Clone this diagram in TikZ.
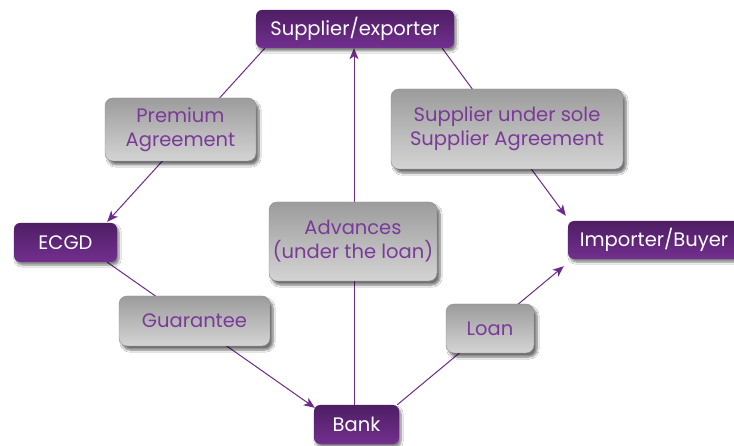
\documentclass[tikz,border=0pt]{standalone}
\usepackage{fontspec}
\setmainfont{Poppins}
\usetikzlibrary{shadows.blur,arrows.meta,calc,backgrounds}
\definecolor{pdark}{HTML}{4E1E63}
\definecolor{plight}{HTML}{722F8F}
\definecolor{gtop}{HTML}{9C9C9C}
\definecolor{gbot}{HTML}{D4D4D4}
\definecolor{ptext}{HTML}{7A3A98}
\definecolor{pline}{HTML}{6B2B8B}
\begin{document}
\begin{tikzpicture}[x=1pt,y=-1pt,
  pbox/.style={rounded corners=6pt, top color=pdark, bottom color=plight, text=white,
    font=\fontsize{19.5}{22}\selectfont, inner sep=0pt,
    blur shadow={shadow xshift=2pt, shadow yshift=-3pt, shadow blur steps=6, shadow opacity=50}},
  gbox/.style={rounded corners=8pt, top color=gtop, bottom color=gbot, text=ptext,
    draw=gtop!80!ptext, line width=0.4pt, align=center,
    font=\fontsize{19.5}{24}\selectfont, inner sep=0pt,
    blur shadow={shadow xshift=3pt, shadow yshift=-4pt, shadow blur steps=8, shadow opacity=55}},
  conn/.style={draw=pline, line width=1pt},
  arr/.style={conn, -{Stealth[length=11pt,width=9pt,inset=3pt]}}
]
\useasboundingbox (0,0) rectangle (734,446);

\node[pbox, minimum width=198pt, minimum height=38pt] (sup) at (355,29) {Supplier/exporter};
\node[pbox, minimum width=103pt, minimum height=39pt] (ecgd) at (65.5,242.5) {ECGD};
\node[pbox, minimum width=172pt, minimum height=38pt] (imp) at (654,240) {Importer/Buyer};
\node[pbox, minimum width=85pt, minimum height=39pt] (bank) at (356.5,424.5) {Bank};

\node[gbox, minimum width=151pt, minimum height=63pt] (prem) at (180.5,129.5) {Premium\\Agreement};
\node[gbox, minimum width=232pt, minimum height=80pt] (sole) at (507,129) {Supplier under sole\\Supplier Agreement};
\node[gbox, minimum width=168pt, minimum height=79pt] (adv) at (353,241.5) {Advances\\(under the loan)};
\node[gbox, minimum width=151pt, minimum height=50pt] (guar) at (194.5,321) {Guarantee};
\node[gbox, minimum width=88pt, minimum height=49pt] (loan) at (490,328.5) {Loan};

\begin{pgfonlayer}{background}
\fill[white] (0,0) rectangle (734,446);
\draw[arr] ([xshift=9pt]sup.south west) -- ([xshift=-10pt,yshift=1pt]ecgd.north east);
\draw[arr] ([xshift=-12pt]sup.south east) -- ([xshift=-2pt,yshift=5pt]imp.north west);
\draw[arr] ([xshift=-2.5pt]bank.north) -- ([xshift=-1pt]sup.south);
\draw[arr] ([xshift=-10pt]ecgd.south east) -- ([xshift=1pt,yshift=-3pt]bank.north west);
\draw[arr] ([xshift=-2pt]bank.north east) -- ([xshift=-4pt,yshift=-7pt]imp.south west);
\end{pgfonlayer}
\end{tikzpicture}
\end{document}
